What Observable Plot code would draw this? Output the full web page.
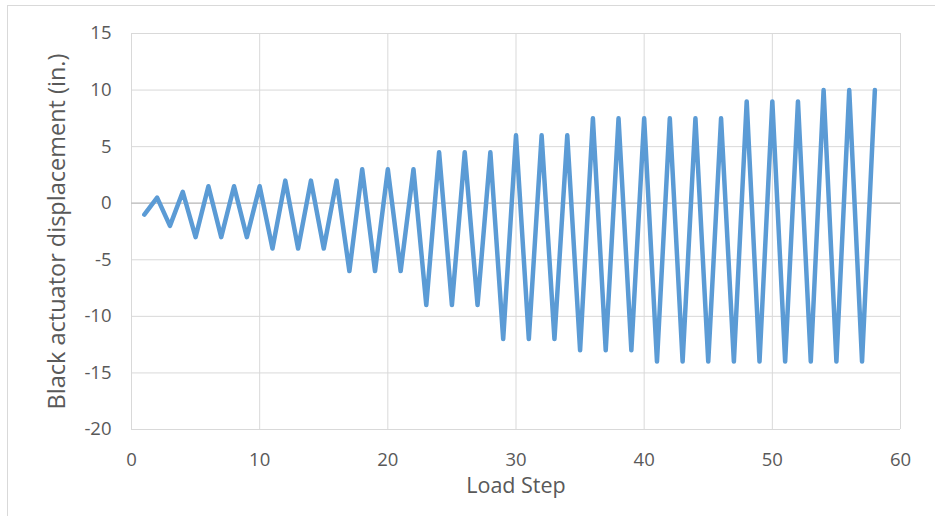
<!DOCTYPE html>
<html>
<head>
<meta charset="utf-8">
<script src="https://cdn.jsdelivr.net/npm/d3@7"></script>
<script src="https://cdn.jsdelivr.net/npm/@observablehq/plot@0.6"></script>
<style>
  html, body { margin: 0; padding: 0; background: #fff; }
  #wrap { position: relative; width: 935px; height: 516px; overflow: hidden; }
  #frame { position: absolute; left: 7px; top: 5px; width: 940px; height: 520px;
           border-top: 1px solid #d9d9d9; border-left: 1px solid #d9d9d9; box-sizing: border-box; }
  #chart { position: absolute; left: 0; top: 0; }
</style>
</head>
<body>
<div id="wrap"><div id="frame"></div><div id="chart"></div></div>
<script>
const loadSteps = [1,2,3,4,5,6,7,8,9,10,11,12,13,14,15,16,17,18,19,20,
  21,22,23,24,25,26,27,28,29,30,31,32,33,34,35,36,37,38,39,40,
  41,42,43,44,45,46,47,48,49,50,51,52,53,54,55,56,57,58];
const displacement = [-1,0.5,-2,1,-3,1.5,-3,1.5,-3,1.5,
  -4,2,-4,2,-4,2,-6,3,-6,3,
  -6,3,-9,4.5,-9,4.5,-9,4.5,-12,6,
  -12,6,-12,6,-13,7.5,-13,7.5,-13,7.5,
  -14,7.5,-14,7.5,-14,7.5,-14,9,-14,9,
  -14,9,-14,10,-14,10,-14,10];
const xTicks = [0,10,20,30,40,50,60];
const yTicks = [-20,-15,-10,-5,0,5,10,15];
const xLabel = "Load Step";
const yLabel = "Black actuator displacement (in.)";

const data = loadSteps.map((s, i) => ({step: s, value: displacement[i]}));
const font = "'Open Sans', Lato, sans-serif";
const textColor = "#595959";
const fmt = d => String(d);

const chart = Plot.plot({
  width: 935,
  height: 516,
  marginLeft: 131,
  marginRight: 35,
  marginTop: 33,
  marginBottom: 87,
  style: {fontFamily: font, background: "transparent", overflow: "visible"},
  x: {domain: [0, 60]},
  y: {domain: [-20, 15]},
  marks: [
    Plot.ruleX(xTicks, {stroke: "#d9d9d9", strokeWidth: 1}),
    Plot.ruleY(yTicks, {stroke: "#d9d9d9", strokeWidth: 1}),
    Plot.ruleY([0], {stroke: "#bfbfbf", strokeWidth: 1.2}),
    Plot.axisX(xTicks, {tickSize: 0, tickPadding: 23, fontSize: 18.5, color: textColor, label: null, tickFormat: fmt}),
    Plot.axisY(yTicks, {tickSize: 0, tickPadding: 20, fontSize: 18.5, color: textColor, label: null, tickFormat: fmt}),
    Plot.line(data, {x: "step", y: "value", stroke: "#5b9bd5", strokeWidth: 4.5, strokeLinejoin: "round", strokeLinecap: "round"}),
    Plot.text([xLabel], {frameAnchor: "bottom", dy: 63, fontSize: 21.5, fill: textColor}),
    Plot.text([yLabel], {frameAnchor: "left", textAnchor: "middle", dx: -74, rotate: -90, fontSize: 23.5, fill: textColor})
  ]
});
document.getElementById("chart").appendChild(chart);
</script>
</body>
</html>
